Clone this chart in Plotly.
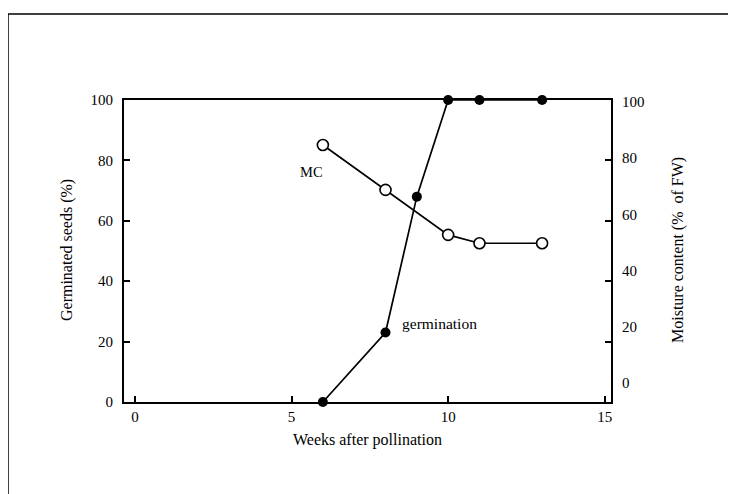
import plotly.graph_objects as go

weeks_germ = [6, 8, 9, 10, 11, 13]
germination = [0, 23, 68, 100, 100, 100]

weeks_mc = [6, 8, 10, 11, 13]
moisture = [84, 68, 52, 49, 49]

x_ticks = [0, 5, 10, 15]
y_ticks = [0, 20, 40, 60, 80, 100]

FONT = "Liberation Serif"

fig = go.Figure()
fig.add_trace(go.Scatter(
    x=weeks_mc, y=moisture, yaxis="y2", mode="lines+markers",
    line=dict(color="black", width=1.7),
    marker=dict(symbol="circle", size=11, color="white", line=dict(color="black", width=1.6)),
    cliponaxis=False, showlegend=False))
fig.add_trace(go.Scatter(
    x=weeks_germ, y=germination, mode="lines+markers",
    line=dict(color="black", width=1.7),
    marker=dict(symbol="circle", size=10, color="black"),
    cliponaxis=False, showlegend=False))

# page has an 8px body margin: plot area placed at page px 124..611 x 100..402
fig.update_layout(
    width=728, height=486, autosize=False,
    margin=dict(l=116, r=125, t=92, b=92),
    paper_bgcolor="white", plot_bgcolor="white",
    font=dict(family=FONT, size=15, color="black"),
    xaxis=dict(range=[-0.35, 15.2], tickvals=x_ticks, ticks="inside", ticklen=6, tickwidth=1.5,
               tickcolor="black", showline=True, linecolor="black", linewidth=2, mirror=True,
               showgrid=False, zeroline=False, tickfont=dict(size=15)),
    yaxis=dict(range=[0, 100], tickvals=y_ticks, ticks="inside", ticklen=6, tickwidth=1.5,
               tickcolor="black", showline=True, linecolor="black", linewidth=2, mirror="ticks",
               showgrid=False, zeroline=False, ticklabelstandoff=6, tickfont=dict(size=15)),
    yaxis2=dict(range=[-7.5, 100], tickvals=y_ticks, overlaying="y", side="right", ticks="",
                showline=False, showgrid=False, zeroline=False, ticklabelstandoff=10,
                ticklabelshift=2, tickfont=dict(size=15)),
)

def px(xp):
    return (xp - 124) / 487

def py(yp):
    return (402 - yp) / 302

annos = [
    dict(text="Germinated seeds (%)", x=px(67), y=py(250), textangle=-90),
    dict(text="Moisture content (%\u00a0 of FW)", x=px(678), y=py(250), textangle=-90),
    dict(text="Weeks after pollination", x=px(367), y=py(440)),
]
for a in annos:
    fig.add_annotation(xref="paper", yref="paper", showarrow=False,
                       xanchor="center", yanchor="middle", font=dict(size=16), **a)

fig.add_annotation(x=5.65, y=76, xref="x", yref="y", text="MC", showarrow=False,
                   font=dict(size=14.5))
fig.add_annotation(x=9.73, y=26, xref="x", yref="y", text="germination", showarrow=False,
                   font=dict(size=15.5))

# outer frame (left, top, right)
L, R, T, B = px(8), px(729), py(14), py(494)
for x0, y0, x1, y1 in [(L, B, L, T), (L, T, R, T), (R, T, R, B)]:
    fig.add_shape(type="line", xref="paper", yref="paper", x0=x0, y0=y0, x1=x1, y1=y1,
                  line=dict(color="black", width=1.5))

fig.write_html("out.html")
